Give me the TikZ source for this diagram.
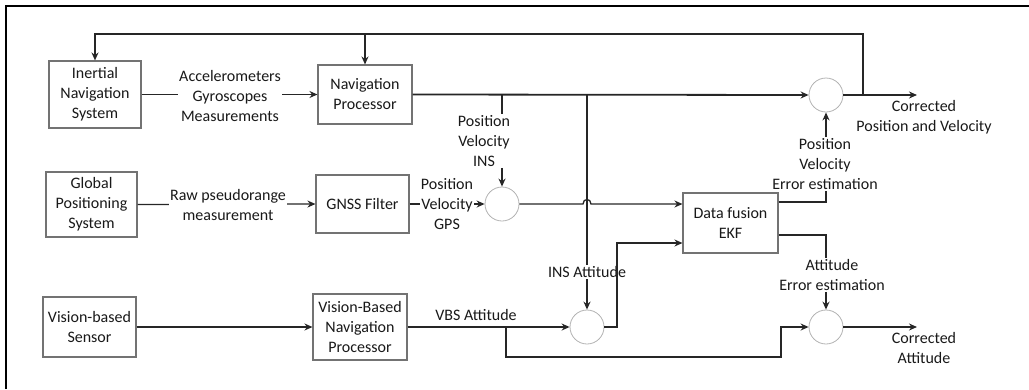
\documentclass[tikz,border=0pt]{standalone}
\usepackage{fontspec}
\setmainfont{Carlito}
\usetikzlibrary{arrows.meta,calc}
\begin{document}
\begin{tikzpicture}[x=1pt,y=-1pt,
  every node/.style={font=\fontsize{16}{20}\selectfont, text=black!90},
  blk/.style={draw=black!55, line width=1.1pt, fill=white, align=center, inner sep=0pt},
  sumc/.style={circle, draw=black!30, line width=0.8pt, minimum size=34pt, inner sep=0pt},
  lbl/.style={align=center, inner sep=1pt},
  lblw/.style={lbl, fill=white},
  thk/.style={line width=1.8pt, draw=black!85},
  thn/.style={line width=1.3pt, draw=black!85},
  arr/.style={-{Stealth[length=8pt,width=7pt]}}]
\useasboundingbox (0,0) rectangle (1029,389);
\draw[line width=2.5pt] (6,389) -- (6,6) -- (1029,6);

% blocks
\node[blk, minimum width=92pt, minimum height=67pt] (ins) at (95,94.5) {Inertial\\Navigation\\System};
\node[blk, minimum width=94pt, minimum height=59pt] (nav) at (365,94.5) {Navigation\\Processor};
\node[blk, minimum width=91pt, minimum height=65pt] (gps) at (91.5,204.5) {Global\\Positioning\\System};
\node[blk, minimum width=93pt, minimum height=58pt] (gnss) at (362.5,204) {GNSS Filter};
\node[blk, minimum width=93pt, minimum height=60pt] (vs) at (89.5,327) {Vision-based\\Sensor};
\node[blk, minimum width=94pt, minimum height=66pt] (vbnp) at (360,327) {Vision-Based\\Navigation\\Processor};
\node[blk, minimum width=95pt, minimum height=60pt] (ekf) at (730.5,223) {Data fusion\\EKF};

% summing junctions
\node[sumc] (s1) at (826,95) {};
\node[sumc] (s2) at (502,204) {};
\node[sumc] (s3) at (587,327) {};
\node[sumc] (s4) at (826,327) {};

% coordinates
\coordinate (fbR) at (863,95);
\coordinate (fbT) at (863,34);
\coordinate (br1) at (502,95);
\coordinate (br2) at (587,95);
\coordinate (k2) at (617,243);
\coordinate (e1) at (826,202);
\coordinate (e2) at (826,235);
\coordinate (b3) at (506,327);
\coordinate (b4) at (781,357);
\coordinate (outPV) at (917,95);
\coordinate (outA) at (917,327);

% labels referenced by connectors
\node[lbl] (pvins) at (484,141) {Position\\Velocity\\INS};
\node[lbl] (pvee) at (825,164) {Position\\Velocity\\Error estimation};
\node[lbl] (aee) at (832,275) {Attitude\\Error estimation};

% connectors
\draw[thk,arr] (ins.east) -- (nav.west);
\draw[thk,arr] (fbR) -- (fbT) -| (ins.north);
\draw[thk,arr] (nav.north |- fbT) -- (nav.north);
\draw[thk,arr] (nav.east) -- (s1.west);
\draw[thk,arr] (s1.east) -- (outPV);
\draw[thk] (br1) -- (br1 |- pvins.north);
\draw[thk,arr] (s2.north |- pvins.south) -- (s2.north);
\draw[thn,arr] (gps.east) -- (gnss.west);
\draw[thn,arr] (gnss.east) -- (s2.west);
\draw[thn,arr] (s2.east) -- (583,204) .. controls (583,198) and (591,198) .. (591,204) -- (ekf.west |- s2.east);
\draw[thk,arr] (br2) -- (s3.north);
\draw[thk] (ekf.east |- e1) -- (e1) -- (e1 |- pvee.south);
\draw[thk,arr] (s1.south |- pvee.north) -- (s1.south);
\draw[thk] (ekf.east |- e2) -- (e2) -- (e2 |- aee.north);
\draw[thk,arr] (s4.north |- aee.south) -- (s4.north);
\draw[thn,arr] (vs.east) -- (vbnp.west);
\draw[thn,arr] (vbnp.east) -- (s3.west);
\draw[thn,arr] (b3) |- (b4) |- (s4.west);
\draw[thn,arr] (s4.east) -- (outA);

% labels over lines
\node[lblw] (acc) at (230,96) {Accelerometers\\Gyroscopes\\Measurements};
\node[lblw] (raw) at (228,205) {Raw pseudorange\\measurement};
\node[lblw] (pvgps) at (447,204) {Position\\Velocity\\GPS};
\node[lblw] (insatt) at (587,272) {INS Attitude};
\node[lbl] (vbsatt) at (476,315) {VBS Attitude};
\node[lbl] (cpv) at (924,117) {Corrected\\Position and Velocity};
\node[lbl] (ca) at (924,348) {Corrected\\Attitude};

% connector drawn over the INS Attitude label
\draw[thn,arr] (s3.east) -| (k2) -- (k2 -| ekf.west);
\end{tikzpicture}
\end{document}
